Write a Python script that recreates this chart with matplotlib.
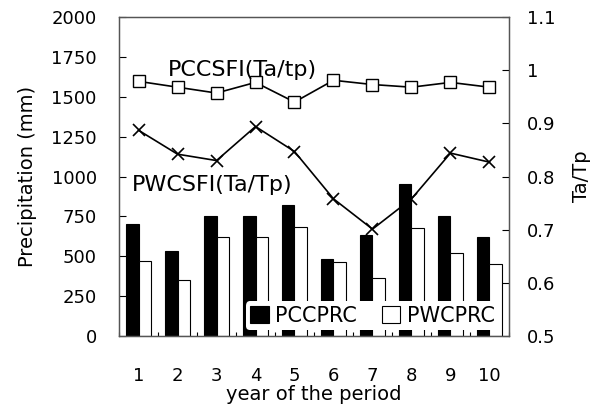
import matplotlib
matplotlib.use("Agg")
import matplotlib.pyplot as plt
import numpy as np

years = [1, 2, 3, 4, 5, 6, 7, 8, 9, 10]
pccprc = [700, 533, 750, 754, 821, 483, 635, 951, 750, 623]
pwcprc = [468, 351, 623, 623, 683, 462, 366, 679, 522, 450]
pccsfi = [0.979, 0.968, 0.957, 0.977, 0.940, 0.981, 0.973, 0.968, 0.977, 0.968]
pwcsfi = [0.887, 0.842, 0.830, 0.894, 0.847, 0.758, 0.701, 0.758, 0.844, 0.827]

plt.rcParams['font.family'] = ['DejaVu Sans']
fs = 13

fig = plt.figure(figsize=(5.99, 4.09), dpi=100)
ax = fig.add_axes([0.1987, 0.1785, 0.651, 0.7799])
x = np.array(years)
w = 0.31
ax.bar(x - w / 2, pccprc, width=w, color='black', edgecolor='black', linewidth=0.8, label='PCCPRC')
ax.bar(x + w / 2, pwcprc, width=w, color='white', edgecolor='black', linewidth=0.8, label='PWCPRC')
ax.set_xlim(0.5, 10.5)
ax.set_ylim(0, 2000)
ax.set_yticks(np.arange(0, 2001, 250))
ax.set_xticks(years)
ax.set_xticks(np.arange(0.5, 10.6, 0.5), minor=True)
ax.tick_params(axis='y', direction='in', length=5, width=0.8, pad=16, labelsize=fs)
ax.tick_params(axis='x', which='major', direction='in', length=0, pad=22, labelsize=fs)
ax.tick_params(axis='x', which='minor', direction='in', length=3, width=0.8)
ax.set_ylabel('Precipitation (mm)', fontsize=fs + 1, labelpad=10)
ax.set_xlabel('year of the period', fontsize=fs + 1, labelpad=0)
for s in ax.spines.values():
    s.set_color('#555555')
    s.set_linewidth(0.9)

leg = ax.legend(loc='lower right', ncol=2, frameon=True, fontsize=fs + 2,
                handlelength=0.9, handleheight=0.9, handletextpad=0.3, columnspacing=1.2,
                borderpad=0.2, bbox_to_anchor=(0.99, 0.0), borderaxespad=0.3)
leg.get_frame().set_edgecolor('none')
leg.get_frame().set_facecolor('white')
leg.get_frame().set_alpha(1)
leg.set_zorder(5)

ax2 = ax.twinx()
ax2.plot(x, pccsfi, color='black', linewidth=1.2, marker='s', markersize=9,
         markerfacecolor='white', markeredgecolor='black', markeredgewidth=1.0)
ax2.plot(x, pwcsfi, color='black', linewidth=1.2, marker='x', markersize=9,
         markeredgewidth=1.2)
ax2.set_ylim(0.5, 1.1)
ax2.set_yticks([0.5, 0.6, 0.7, 0.8, 0.9, 1.0, 1.1])
ax2.set_yticklabels(['0.5', '0.6', '0.7', '0.8', '0.9', '1', '1.1'])
ax2.tick_params(axis='y', direction='in', length=5, width=0.8, pad=13, labelsize=fs)
ax2.set_ylabel('Ta/Tp', fontsize=fs + 1, labelpad=12)
for s in ax2.spines.values():
    s.set_color('#555555')
    s.set_linewidth(0.9)

ax2.text(1.76, 1.0, 'PCCSFI(Ta/tp)', fontsize=fs + 3, ha='left', va='center')
ax2.text(0.83, 0.784, 'PWCSFI(Ta/Tp)', fontsize=fs + 3, ha='left', va='center')

fig.savefig('out.png', dpi=100)
